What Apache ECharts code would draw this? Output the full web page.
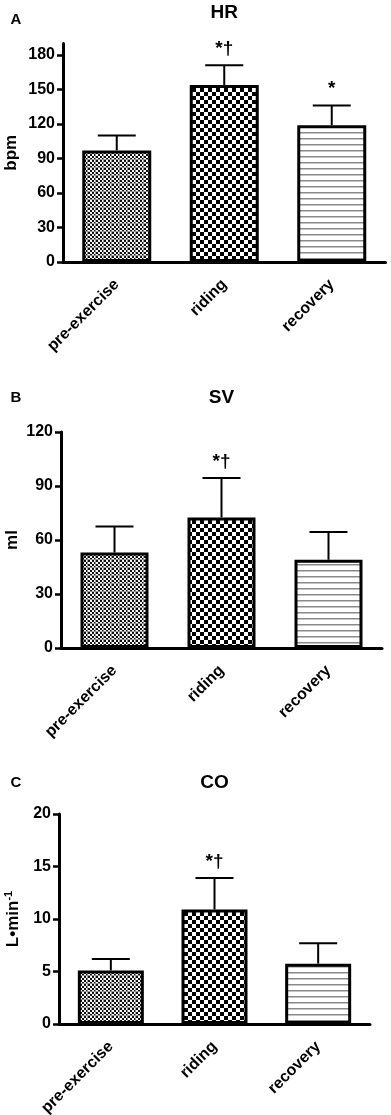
<!DOCTYPE html>
<html>
<head>
<meta charset="utf-8">
<script src="https://cdn.jsdelivr.net/npm/echarts@6/dist/echarts.min.js"></script>
<style>
html,body{margin:0;padding:0;background:#fff;}
#c{width:391px;height:1115px;}
</style>
</head>
<body>
<div id="c"></div>
<script>
// ---------- data ----------
const categories = ['pre-exercise', 'riding', 'recovery'];

const hrMean = [97, 154, 119];
const hrErr  = [13, 17, 17];
const hrNotes = ['', '*†', '*'];
const hrTicks = [0, 30, 60, 90, 120, 150, 180];

const svMean = [53, 72.5, 49];
const svErr  = [14.5, 22, 15.5];
const svNotes = ['', '*†', ''];
const svTicks = [0, 30, 60, 90, 120];

const coMean = [5.1, 10.9, 5.75];
const coErr  = [1.1, 3.0, 1.95];
const coNotes = ['', '*†', ''];
const coTicks = [0, 5, 10, 15, 20];

// ---------- patterns ----------
function patFine() {
  const c = document.createElement('canvas'); c.width = 8; c.height = 8;
  const g = c.getContext('2d');
  g.fillStyle = '#fff'; g.fillRect(0, 0, 8, 8);
  g.fillStyle = '#111';
  for (let y = 0; y < 8; y += 2) for (let x = 0; x < 8; x += 2)
    if (((x + y) / 2) % 2 === 0) g.fillRect(x, y, 2, 2);
  g.fillStyle = 'rgba(150,150,150,0.9)';
  g.fillRect(0, 7, 8, 1); g.fillRect(7, 0, 1, 8);
  return c;
}
function patCheck() {
  const c = document.createElement('canvas'); c.width = 8; c.height = 8;
  const g = c.getContext('2d');
  g.fillStyle = '#fff'; g.fillRect(0, 0, 8, 8);
  g.fillStyle = '#000';
  g.fillRect(0, 0, 4, 4); g.fillRect(4, 4, 4, 4);
  return c;
}
function patLines() {
  const c = document.createElement('canvas'); c.width = 4; c.height = 6;
  const g = c.getContext('2d');
  g.fillStyle = '#fff'; g.fillRect(0, 0, 4, 6);
  g.fillStyle = '#8a8a8a'; g.fillRect(0, 0, 4, 1);
  g.fillStyle = '#c4c4c4'; g.fillRect(0, 1, 4, 1);
  return c;
}
const patterns = [patFine(), patCheck(), patLines()];

// ---------- layout ----------
const FONT = 'Liberation Sans';
const panels = [
  {letter: 'A', title: 'HR', name: 'bpm', mean: hrMean, err: hrErr, notes: hrNotes, ticks: hrTicks,
   max: 190, interval: 30, grid: {left: 63, top: 43.5, width: 322.5, height: 218.5}, nameGap: 43, barWidth: 69},
  {letter: 'B', title: 'SV', name: 'ml', mean: svMean, err: svErr, notes: svNotes, ticks: svTicks,
   max: 120, interval: 30, grid: {left: 61, top: 432, width: 321, height: 216}, nameGap: 40, barWidth: 68},
  {letter: 'C', title: 'CO', name: '{a|L•min}{b|-1}', mean: coMean, err: coErr, notes: coNotes, ticks: coTicks,
   max: 20, interval: 5, grid: {left: 59, top: 814, width: 311, height: 210}, nameGap: 36, barWidth: 66}
];

const grids = [], xAxes = [], yAxes = [], series = [], graphics = [];
panels.forEach((p, i) => {
  grids.push(Object.assign({containLabel: false, outerBoundsMode: 'none'}, p.grid));
  xAxes.push({
    type: 'category', gridIndex: i, data: categories,
    axisLine: {lineStyle: {color: '#000', width: 3}},
    axisTick: {alignWithLabel: true, length: 7, lineStyle: {color: '#000', width: 2.5}},
    axisLabel: {rotate: 45, margin: 20, color: '#000', fontFamily: FONT, fontWeight: 'bold', fontSize: 16, interval: 0},
    splitLine: {show: false}
  });
  yAxes.push({
    type: 'value', gridIndex: i, min: 0, max: p.max, interval: p.interval,
    name: p.name, nameLocation: 'middle', nameGap: p.nameGap, nameMoveOverlap: false,
    nameTextStyle: {color: '#000', fontFamily: FONT, fontWeight: 'bold', fontSize: 17,
      rich: {a: {color: '#000', fontFamily: FONT, fontWeight: 'bold', fontSize: 17, lineHeight: 20},
             b: {color: '#000', fontFamily: FONT, fontWeight: 'bold', fontSize: 11, verticalAlign: 'top', lineHeight: 20}}},
    axisLine: {show: true, lineStyle: {color: '#000', width: 3}},
    axisTick: {show: true, length: 6, customValues: p.ticks, lineStyle: {color: '#000', width: 2.5}},
    axisLabel: {customValues: p.ticks, margin: 8, color: '#000', fontFamily: FONT, fontWeight: 'bold', fontSize: 16},
    splitLine: {show: false}
  });
  series.push({
    type: 'bar', xAxisIndex: i, yAxisIndex: i, barWidth: p.barWidth,
    data: p.mean.map((v, k) => ({
      value: v,
      itemStyle: {color: {image: patterns[k], repeat: 'repeat'}, borderColor: '#000', borderWidth: 3}
    })),
    silent: true, animation: false
  });
  series.push({
    type: 'custom', xAxisIndex: i, yAxisIndex: i, silent: true, animation: false, z: 5,
    data: p.mean.map((v, k) => [k, v, v + p.err[k]]),
    renderItem: function (params, api) {
      const k = api.value(0), v = api.value(1), h = api.value(2);
      const note = p.notes[params.dataIndex];
      const p0 = api.coord([k, v]), p1 = api.coord([k, h]);
      const hw = 19;
      const ch = [
        {type: 'line', shape: {x1: p0[0], y1: p0[1], x2: p1[0], y2: p1[1]}, style: {stroke: '#000', lineWidth: 2}},
        {type: 'line', shape: {x1: p1[0] - hw, y1: p1[1], x2: p1[0] + hw, y2: p1[1]}, style: {stroke: '#000', lineWidth: 2}}
      ];
      if (note) ch.push({type: 'text', x: p1[0], y: p1[1] - 7,
        style: {text: note, align: 'center', verticalAlign: 'bottom', fill: '#000',
                font: 'bold 19px "' + FONT + '"'}});
      return {type: 'group', children: ch};
    }
  });
  const cx = p.grid.left + p.grid.width / 2;
  graphics.push({type: 'text', x: cx, y: p.grid.top - (i === 0 ? 31 : (i === 1 ? 34 : 31)),
    style: {text: p.title, align: 'center', verticalAlign: 'middle', fill: '#000', font: 'bold 19px "' + FONT + '"'}});
});
graphics.push({type: 'text', x: 16, y: 20, style: {text: 'A', align: 'center', verticalAlign: 'middle', fill: '#000', font: 'bold 15px "' + FONT + '"'}});
graphics.push({type: 'text', x: 16, y: 398, style: {text: 'B', align: 'center', verticalAlign: 'middle', fill: '#000', font: 'bold 15px "' + FONT + '"'}});
graphics.push({type: 'text', x: 16, y: 783, style: {text: 'C', align: 'center', verticalAlign: 'middle', fill: '#000', font: 'bold 15px "' + FONT + '"'}});

const chart = echarts.init(document.getElementById('c'), null, {renderer: 'canvas'});
chart.setOption({
  animation: false,
  backgroundColor: '#fff',
  grid: grids, xAxis: xAxes, yAxis: yAxes, series: series, graphic: graphics
});
</script>
</body>
</html>
